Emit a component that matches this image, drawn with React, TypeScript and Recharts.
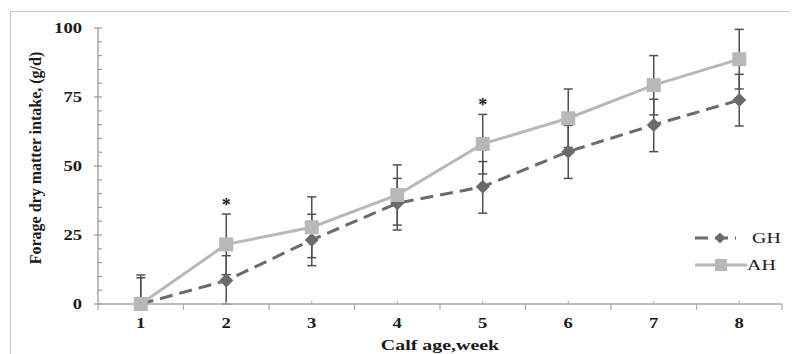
import React from 'react';
import { LineChart, Line, XAxis, YAxis, ErrorBar, LabelList } from 'recharts';

const weeks = [1, 2, 3, 4, 5, 6, 7, 8];
const ghMean = [0, 8.5, 23.2, 36.5, 42.5, 55.2, 64.9, 73.9];
const ghErrUp = [9.5, 9, 9.3, 9, 9.1, 9.5, 9.3, 9.3];
const ghErrDown = [0, 8.5, 9.3, 9.7, 9.6, 9.7, 9.7, 9.4];
const ahMean = [0, 21.6, 27.8, 39.5, 58, 67.3, 79.3, 88.7];
const ahErrUp = [10.5, 11, 11, 10.9, 10.7, 10.6, 10.7, 10.8];
const ahErrDown = [0, 11, 11, 10.9, 10.9, 10.6, 10.8, 10.8];
const significant = [false, true, false, false, true, false, false, false];
const xTicks = [0.5, 1, 1.5, 2, 2.5, 3, 3.5, 4, 4.5, 5, 5.5, 6, 6.5, 7, 7.5, 8, 8.5];
const yTicks = [0, 5, 10, 15, 20, 25, 30, 35, 40, 45, 50, 55, 60, 65, 70, 75, 80, 85, 90, 95, 100];
const yLabelTicks = [0, 25, 50, 75, 100];
const seriesNames = ['GH', 'AH'];
const xTitle = 'Calf age,week';
const yTitle = 'Forage dry matter intake, (g/d)';

const data = weeks.map((w, i) => ({
  week: w,
  gh: ghMean[i],
  ghErr: [ghErrDown[i], ghErrUp[i]],
  ah: ahMean[i],
  ahErr: [ahErrDown[i], ahErrUp[i]],
  star: significant[i] ? ahMean[i] + ahErrUp[i] : null,
}));

const FONT = '"Liberation Serif", "Times New Roman", serif';
const STRETCH = 1.33;
const AXIS = '#a8a8a8';
const GH_COLOR = '#6b6b6b';
const AH_COLOR = '#b8b8b8';
const ERR = '#505050';

const XTick = (props: any) => {
  const { x, y, payload } = props;
  const v = payload.value;
  if (Number.isInteger(v)) {
    return (
      <g>
        <line x1={x} x2={x} y1={y} y2={y - 3} stroke={AXIS} strokeWidth={1} />
        <g transform={`translate(${x},${y + 19}) scale(${STRETCH},1)`}>
          <text x={0} y={0} textAnchor="middle" dominantBaseline="central" fontFamily={FONT} fontWeight="bold" fontSize={14} fill="#1a1a1a">
            {v}
          </text>
        </g>
      </g>
    );
  }
  return <line x1={x} x2={x} y1={y} y2={y + 6} stroke={AXIS} strokeWidth={1.2} />;
};

const YTick = (props: any) => {
  const { x, y, payload } = props;
  const v = payload.value;
  const major = yLabelTicks.includes(v);
  return (
    <g>
      <line x1={major ? x - 4 : x} x2={x + 4} y1={y} y2={y} stroke="#9a9a9a" strokeWidth={1.2} />
      {major && (
        <g transform={`translate(${x - 16},${y}) scale(${STRETCH},1)`}>
          <text x={0} y={0} textAnchor="end" dominantBaseline="central" fontFamily={FONT} fontWeight="bold" fontSize={14} fill="#1a1a1a">
            {v}
          </text>
        </g>
      )}
    </g>
  );
};

const Diamond = (props: any) => {
  const { cx, cy, size = 7 } = props;
  if (cx == null || cy == null) return null;
  return (
    <polygon
      points={`${cx},${cy - size} ${cx + size},${cy} ${cx},${cy + size} ${cx - size},${cy}`}
      fill={GH_COLOR}
    />
  );
};

const Square = (props: any) => {
  const { cx, cy, size = 7 } = props;
  if (cx == null || cy == null) return null;
  return <rect x={cx - size} y={cy - size} width={size * 2} height={size * 2} fill={AH_COLOR} />;
};

const StarLabel = (props: any) => {
  const { x, y, value } = props;
  if (value == null) return null;
  return (
    <text x={x} y={y - 3} textAnchor="middle" fontFamily={FONT} fontWeight="bold" fontSize={18} fill="#1a1a1a">
      *
    </text>
  );
};

export default function App() {
  return (
    <div style={{ position: 'relative', width: 790, height: 346, overflow: 'hidden', background: '#fff' }}>
      <div
        style={{
          position: 'absolute',
          left: 2,
          top: 3,
          width: 800,
          height: 400,
          borderTop: '1px solid #c8c8c8',
          borderLeft: '1px solid #c8c8c8',
        }}
      />
      <div style={{ position: 'absolute', left: 0, top: 0 }}>
        <LineChart width={790} height={346} data={data} margin={{ top: 20, right: 16, bottom: 20, left: 30 }}>
          <XAxis
            type="number"
            dataKey="week"
            domain={[0.5, 8.5]}
            ticks={xTicks}
            interval={0}
            tickLine={false}
            tickSize={0}
            tickMargin={0}
            axisLine={{ stroke: AXIS, strokeWidth: 1.5 }}
            tick={<XTick />}
            height={30}
          />
          <YAxis
            type="number"
            domain={[0, 100]}
            ticks={yTicks}
            interval={0}
            tickLine={false}
            tickSize={0}
            tickMargin={0}
            axisLine={{ stroke: AXIS, strokeWidth: 1.5 }}
            tick={<YTick />}
            width={60}
          />
          <Line
            dataKey="gh"
            name={seriesNames[0]}
            stroke={GH_COLOR}
            strokeWidth={3}
            strokeDasharray="13 7"
            isAnimationActive={false}
            dot={(p: any) => <Diamond key={`gd-${p.index}`} {...p} />}
            activeDot={false}
          >
            <ErrorBar dataKey="ghErr" direction="y" width={4.5} stroke={ERR} strokeWidth={1.5} />
          </Line>
          <Line
            dataKey="ah"
            name={seriesNames[1]}
            stroke={AH_COLOR}
            strokeWidth={3}
            isAnimationActive={false}
            dot={(p: any) => <Square key={`as-${p.index}`} {...p} />}
            activeDot={false}
          >
            <ErrorBar dataKey="ahErr" direction="y" width={4.5} stroke={ERR} strokeWidth={1.5} />
          </Line>
          <Line
            dataKey="star"
            stroke="none"
            dot={false}
            activeDot={false}
            legendType="none"
            isAnimationActive={false}
          >
            <LabelList dataKey="star" content={<StarLabel />} />
          </Line>
          {/* axis titles */}
          <text
            x={27}
            y={150}
            transform="rotate(-90 27 150)"
            textAnchor="middle"
            dominantBaseline="central"
            fontFamily={FONT}
            fontWeight="bold"
            fontSize={16}
            fill="#1a1a1a"
          >
            {yTitle}
          </text>
          <g transform={`translate(432,342) scale(${STRETCH},1)`}>
            <text x={0} y={0} textAnchor="middle" fontFamily={FONT} fontWeight="bold" fontSize={15} fill="#1a1a1a">
              {xTitle}
            </text>
          </g>
          {/* legend */}
          <g>
            <line x1={687} x2={728} y1={230} y2={230} stroke={GH_COLOR} strokeWidth={3} strokeDasharray="13 7" />
            <Diamond cx={712} cy={230} size={5.5} />
            <g transform={`translate(744,230) scale(${STRETCH},1)`}>
              <text x={0} y={0} dominantBaseline="central" fontFamily={FONT} fontSize={15} fill="#1a1a1a">
                {seriesNames[0]}
              </text>
            </g>
            <line x1={687} x2={739} y1={257} y2={257} stroke={AH_COLOR} strokeWidth={3} />
            <Square cx={713} cy={257} size={6} />
            <g transform={`translate(739,257) scale(${STRETCH},1)`}>
              <text x={0} y={0} dominantBaseline="central" fontFamily={FONT} fontSize={15} fill="#1a1a1a">
                {seriesNames[1]}
              </text>
            </g>
          </g>
        </LineChart>
      </div>
    </div>
  );
}
